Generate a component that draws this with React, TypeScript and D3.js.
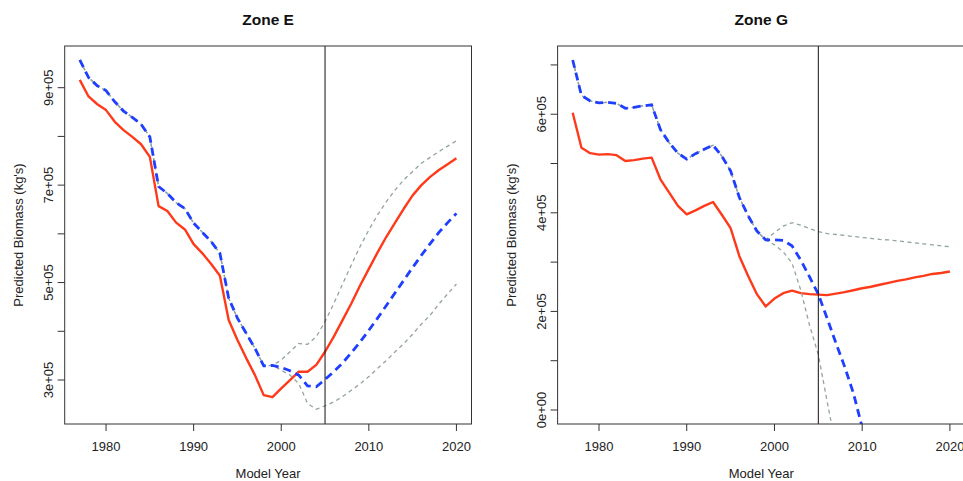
import React from "react";
import * as d3 from "d3";

// ---------- data ----------
const years = [
  1977, 1978, 1979, 1980, 1981, 1982, 1983, 1984, 1985, 1986, 1987, 1988, 1989, 1990, 1991,
  1992, 1993, 1994, 1995, 1996, 1997, 1998, 1999, 2000, 2001, 2002, 2003, 2004, 2005, 2006,
  2007, 2008, 2009, 2010, 2011, 2012, 2013, 2014, 2015, 2016, 2017, 2018, 2019, 2020,
];
const projYears = [
  2000, 2001, 2002, 2003, 2004, 2005, 2006, 2007, 2008, 2009, 2010, 2011, 2012, 2013, 2014,
  2015, 2016, 2017, 2018, 2019, 2020,
];
const xTicks = [1980, 1990, 2000, 2010, 2020];
const xTickLabels = ["1980", "1990", "2000", "2010", "2020"];
const refYear = 2005;

// Zone E (thousands of kg)
const zoneERed = [
  916, 882, 866, 854, 830, 813, 799, 784, 758, 657, 647, 623, 609, 579, 560, 538, 514, 423,
  382, 345, 310, 269, 265, 283, 300, 317, 317, 331, 358, 389, 423, 457, 494, 528, 562, 594,
  623, 652, 679, 700, 717, 731, 743, 755,
];
const zoneEBlue = [
  957, 921, 904, 894, 871, 852, 839, 825, 799, 697, 683, 664, 652, 622, 603, 584, 560, 468,
  427, 396, 365, 329, 330, 326, 319, 310, 288, 286, 301, 317, 335, 356, 378, 402, 427, 453,
  479, 505, 531, 556, 580, 603, 623, 642,
];
const zoneEUpperProj = [
  341, 358, 375, 373, 389, 420, 457, 497, 536, 574, 608, 639, 666, 690, 711, 728, 745, 757,
  769, 780, 791,
];
const zoneELowerProj = [
  320, 310, 293, 252, 240, 247, 255, 266, 279, 292, 307, 324, 340, 358, 375, 394, 415, 433,
  456, 477, 497,
];
const zoneETicks = [3e5, 4e5, 5e5, 6e5, 7e5, 8e5, 9e5];
const zoneETickLabelValues = [3e5, 5e5, 7e5, 9e5];
const zoneETickLabels = ["3e+05", "5e+05", "7e+05", "9e+05"];

// Zone G (thousands of kg)
const zoneGRed = [
  603, 532, 521, 518, 519, 517, 505, 507, 510, 512, 468, 441, 414, 397, 405, 414, 422, 396,
  369, 312, 272, 235, 210, 226, 237, 242, 237, 235, 234, 233, 236, 239, 243, 247, 250, 254,
  258, 262, 265, 269, 272, 276, 278, 281,
];
const zoneGBlue = [
  710, 638, 627, 623, 624, 622, 612, 614, 617, 619, 569, 542, 521, 509, 520, 529, 537, 515,
  485, 431, 394, 363, 345, 345, 344, 333, 304, 270, 235, 186, 136, 88, 34, -35,
];
const zoneGUpperProj = [
  360, 373, 380, 375, 368, 362, 358, 356, 354, 352, 350, 348, 346, 345, 343, 341, 339, 337,
  335, 333, 331,
];
const zoneGLowerProj = [335, 321, 298, 243, 172, 112, 18, -75];
const zoneGTicks = [0, 1e5, 2e5, 3e5, 4e5, 5e5, 6e5, 7e5];
const zoneGTickLabelValues = [0, 2e5, 4e5, 6e5];
const zoneGTickLabels = ["0e+00", "2e+05", "4e+05", "6e+05"];

// ---------- layout ----------
const W = 963;
const H = 481;
const TOP = 46;
const BOTTOM = 424;
const FONT = "'Liberation Sans', Arial, Helvetica, sans-serif";
const RED = "#ff3a1a";
const BLUE = "#1f3fff";
const GREY = "#93a3a3";

type Pt = { year: number; value: number };

function toPts(xs: number[], vs: number[]): Pt[] {
  return vs.map((v, i) => ({ year: xs[i], value: v * 1000 }));
}

type PanelDef = {
  id: string;
  title: string;
  left: number;
  right: number;
  yDomain: [number, number];
  ticks: number[];
  labelValues: number[];
  labels: string[];
  red: Pt[];
  blue: Pt[];
  upper: Pt[];
  lower: Pt[];
};

const histYearsE = years.slice(0, 23);
const panels: PanelDef[] = [
  {
    id: "E",
    title: "Zone E",
    left: 64.7,
    right: 471.5,
    yDomain: [209.7e3, 985.6e3],
    ticks: zoneETicks,
    labelValues: zoneETickLabelValues,
    labels: zoneETickLabels,
    red: toPts(years, zoneERed),
    blue: toPts(years, zoneEBlue),
    upper: [...toPts(histYearsE, zoneEBlue.slice(0, 23)), ...toPts(projYears, zoneEUpperProj)],
    lower: [...toPts(histYearsE, zoneEBlue.slice(0, 23)), ...toPts(projYears, zoneELowerProj)],
  },
  {
    id: "G",
    title: "Zone G",
    left: 557.6,
    right: 965,
    yDomain: [-28.4e3, 738.4e3],
    ticks: zoneGTicks,
    labelValues: zoneGTickLabelValues,
    labels: zoneGTickLabels,
    red: toPts(years, zoneGRed),
    blue: toPts(years, zoneGBlue),
    upper: [...toPts(histYearsE, zoneGBlue.slice(0, 23)), ...toPts(projYears, zoneGUpperProj)],
    lower: [...toPts(histYearsE, zoneGBlue.slice(0, 23)), ...toPts(projYears, zoneGLowerProj)],
  },
];

function Panel({ p }: { p: PanelDef }) {
  const x = d3.scaleLinear().domain([1975.28, 2021.72]).range([p.left, p.right]);
  const y = d3.scaleLinear().domain(p.yDomain).range([BOTTOM, TOP]);
  const line = d3
    .line<Pt>()
    .x((d) => x(d.year))
    .y((d) => y(d.value));
  const clipId = `clip-${p.id}`;
  const cx = (p.left + p.right) / 2;
  return (
    <g>
      <defs>
        <clipPath id={clipId}>
          <rect x={p.left} y={TOP} width={p.right - p.left} height={BOTTOM - TOP} />
        </clipPath>
      </defs>
      <g clipPath={`url(#${clipId})`} fill="none">
        <path d={line(p.red) || ""} stroke={RED} strokeWidth={2.4} strokeLinejoin="round" />
        <path d={line(p.upper) || ""} stroke={GREY} strokeWidth={1.3} strokeDasharray="4,3.5" />
        <path d={line(p.lower) || ""} stroke={GREY} strokeWidth={1.3} strokeDasharray="4,3.5" />
        <path d={line(p.blue) || ""} stroke={BLUE} strokeWidth={2.8} strokeDasharray="8,5" />
        <line x1={x(refYear)} x2={x(refYear)} y1={TOP} y2={BOTTOM} stroke="#111" strokeWidth={1} />
      </g>
      <rect
        x={p.left}
        y={TOP}
        width={p.right - p.left}
        height={BOTTOM - TOP}
        fill="none"
        stroke="#333"
        strokeWidth={1}
      />
      {/* x axis */}
      {xTicks.map((t, i) => (
        <g key={t}>
          <line x1={x(t)} x2={x(t)} y1={BOTTOM} y2={BOTTOM + 7} stroke="#333" />
          <text
            x={x(t)}
            y={BOTTOM + 26.5}
            textAnchor="middle"
            fontSize={13}
            fontFamily={FONT}
            fill="#222"
          >
            {xTickLabels[i]}
          </text>
        </g>
      ))}
      {/* y axis */}
      {p.ticks.map((t) => (
        <line key={t} x1={p.left - 7} x2={p.left} y1={y(t)} y2={y(t)} stroke="#333" />
      ))}
      {p.labelValues.map((t, i) => (
        <text
          key={t}
          transform={`translate(${p.left - 12},${y(t)}) rotate(-90)`}
          textAnchor="middle"
          fontSize={13}
          fontFamily={FONT}
          fill="#222"
        >
          {p.labels[i]}
        </text>
      ))}
      <text
        transform={`translate(${p.left - 42},${(TOP + BOTTOM) / 2}) rotate(-90)`}
        textAnchor="middle"
        fontSize={13}
        fontFamily={FONT}
        fill="#222"
      >
        Predicted Biomass (kg's)
      </text>
      <text x={cx} y={478} textAnchor="middle" fontSize={13} fontFamily={FONT} fill="#222">
        Model Year
      </text>
      <text
        x={cx}
        y={25}
        textAnchor="middle"
        fontSize={15.5}
        fontWeight="bold"
        fontFamily={FONT}
        fill="#111"
      >
        {p.title}
      </text>
    </g>
  );
}

export default function App() {
  return (
    <svg
      width={W}
      height={H}
      viewBox={`0 0 ${W} ${H}`}
      style={{ position: "absolute", left: 0, top: 0, background: "#fff" }}
    >
      <rect x={0} y={0} width={W} height={H} fill="#fff" />
      {panels.map((p) => (
        <Panel key={p.id} p={p} />
      ))}
    </svg>
  );
}
